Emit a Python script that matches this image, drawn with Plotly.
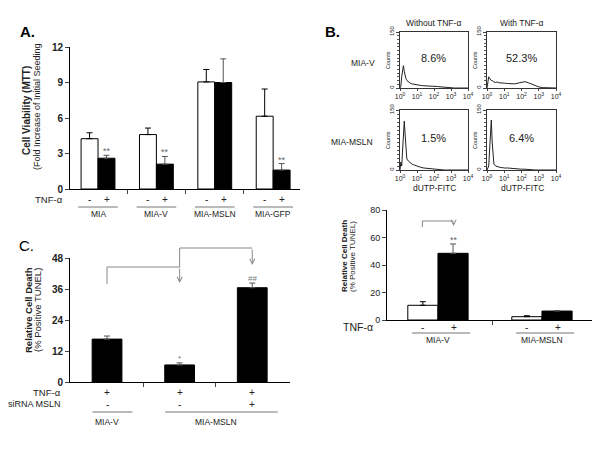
import plotly.graph_objects as go

# ---- data ----
# A. MTT viability
groups_a = ["MIA", "MIA-V", "MIA-MSLN", "MIA-GFP"]
a_minus = [4.25, 4.6, 9.05, 6.15]
a_minus_err = [0.5, 0.55, 1.05, 2.3]
a_plus = [2.6, 2.1, 9.0, 1.6]
a_plus_err = [0.25, 0.65, 2.0, 0.55]
a_sig = ["**", "**", "", "**"]
a_ticks = [0, 3, 6, 9, 12]

# B. TUNEL flow histograms (log10 dUTP-FITC vs counts)
hist_log = [0, 0.05, 0.1, 0.15, 0.2, 0.25, 0.3, 0.35, 0.4, 0.5, 0.6, 0.7, 0.8, 0.9,
            1.0, 1.2, 1.4, 1.6, 1.8, 2.0, 2.2, 2.4, 2.6, 2.8, 3.0, 3.2, 3.5, 4.0]
hist_v_minus = [0, 5, 30, 55, 60, 45, 32, 25, 20, 16, 13, 11, 10, 9,
                8, 7, 6, 6, 5, 4, 4, 3, 2, 2, 1, 0, 0, 0]
hist_v_plus = [0, 20, 30, 26, 22, 20, 20, 18, 16, 15, 16, 14, 13, 14,
               13, 12, 11, 11, 13, 16, 17, 14, 10, 6, 3, 1, 0, 0]
hist_m_minus = [0, 20, 10, 60, 110, 122, 90, 40, 28, 22, 18, 15, 13, 11,
                9, 7, 5, 4, 3, 2, 1, 0, 0, 0, 0, 0, 0, 0]
hist_m_plus = [0, 5, 10, 50, 115, 125, 70, 25, 15, 10, 8, 7, 6, 6,
               5, 5, 4, 4, 3, 2, 2, 1, 1, 0, 0, 0, 0, 0]
hist_pct = ["8.6%", "52.3%", "1.5%", "6.4%"]
hist_ticks = [0, 1, 2, 3, 4]

# B. TUNEL bars
groups_b = ["MIA-V", "MIA-MSLN"]
b_minus = [10.7, 2.4]
b_minus_err = [2.6, 0.7]
b_plus = [48.5, 6.5]
b_plus_err = [6.8, 0.4]
b_sig = ["**", ""]
b_ticks = [0, 20, 40, 60, 80]

# C. TUNEL with siRNA
c_values = [16.6, 6.6, 36.5]
c_err = [1.2, 0.8, 1.8]
c_sig = ["", "*", "##"]
c_tnf = ["+", "+", "+"]
c_sirna = ["-", "-", "+"]
c_groups = [("MIA-V", 0, 0), ("MIA-MSLN", 1, 2)]
c_ticks = [0, 12, 24, 36, 48]

FONT = "Arial, Liberation Sans, sans-serif"
TXT = "#222"
# the page body adds an 8px margin, so the figure is drawn 8px smaller and shifted
W, H, OFF = 592, 442, 8


def px(v):
    return (v - OFF) / W


def py(v):
    return 1 - (v - OFF) / H


fig = go.Figure()
ann = []
shp = []


def note(x, y, text, size=8.5, xref="paper", yref="paper", color=TXT, **kw):
    d = dict(x=x, y=y, xref=xref, yref=yref, text=text, showarrow=False,
             xanchor="center", yanchor="middle", font=dict(size=size, color=color))
    d.update(kw)
    ann.append(d)


# ---------------- panel A ----------------
fig.add_bar(x=list(range(4)), y=a_minus, marker=dict(color="white", line=dict(color="black", width=1)),
            error_y=dict(type="data", array=a_minus_err, arrayminus=[0] * 4, symmetric=False,
                         color="black", thickness=1, width=3),
            xaxis="x", yaxis="y", showlegend=False)
fig.add_bar(x=list(range(4)), y=a_plus, marker=dict(color="black", line=dict(color="black", width=1)),
            error_y=dict(type="data", array=a_plus_err, arrayminus=[0] * 4, symmetric=False,
                         color="#555", thickness=1, width=3),
            xaxis="x", yaxis="y", showlegend=False)

for i, g in enumerate(groups_a):
    note(i - 0.15, py(199), "-", 10, xref="x")
    note(i + 0.15, py(199), "+", 10, xref="x")
    shp.append(dict(type="line", xref="x", yref="paper", x0=i - 0.34, x1=i + 0.34,
                    y0=py(207), y1=py(207), line=dict(color="#777", width=1)))
    note(i, py(214), g, 8.5, xref="x")
    if a_sig[i]:
        note(i + 0.15, a_plus[i] + a_plus_err[i], a_sig[i], 9, xref="x", yref="y",
             color="#666", yanchor="bottom", yshift=-3)
note(px(49), py(199), "TNF-α", 9.5)
note(px(26), py(111), "<b>Cell Viability (MTT)</b>", 10, textangle=-90)
note(px(37), py(107), "(Fold Increase of Initial Seeding", 9, textangle=-90)
note(px(27), py(31), "<b>A.</b>", 15, color="black")

# ---------------- panel B bars ----------------
fig.add_bar(x=list(range(2)), y=b_minus, marker=dict(color="white", line=dict(color="black", width=1)),
            error_y=dict(type="data", array=b_minus_err, arrayminus=[0] * 2, symmetric=False,
                         color="black", thickness=1, width=3),
            xaxis="x2", yaxis="y2", showlegend=False)
fig.add_bar(x=list(range(2)), y=b_plus, marker=dict(color="black", line=dict(color="black", width=1)),
            error_y=dict(type="data", array=b_plus_err, arrayminus=[0] * 2, symmetric=False,
                         color="#555", thickness=1, width=3),
            xaxis="x2", yaxis="y2", showlegend=False)
for i, g in enumerate(groups_b):
    note(i - 0.15, py(327), "-", 10, xref="x2")
    note(i + 0.15, py(327), "+", 10, xref="x2")
    shp.append(dict(type="line", xref="x2", yref="paper", x0=i - 0.25, x1=i + 0.31,
                    y0=py(333), y1=py(333), line=dict(color="#777", width=1)))
    note(i, py(340), g, 8.5, xref="x2")
    if b_sig[i]:
        note(i + 0.15, b_plus[i] + b_plus_err[i], b_sig[i], 9, xref="x2", yref="y2",
             color="#666", yanchor="bottom", yshift=-3)
note(px(358), py(327), "TNF-α", 10.5)
note(px(344), py(256), "<b>Relative Cell Death</b>", 8, textangle=-90)
note(px(352), py(256), "(% Positive TUNEL)", 8, textangle=-90)
# bracket MIA-V - vs +
shp.append(dict(type="path", xref="x2", yref="paper",
                path=f"M -0.15,{py(227)} L -0.15,{py(221)} L 0.15,{py(221)}",
                line=dict(color="#888", width=1)))
ann.append(dict(x=0.15, y=py(226), xref="x2", yref="paper", ax=0, ay=-5, text="",
                showarrow=True, arrowhead=5, arrowsize=1, arrowwidth=1, arrowcolor="#888"))
note(px(332), py(31), "<b>B.</b>", 15, color="black")

# ---------------- panel B histograms ----------------
hists = [hist_v_minus, hist_v_plus, hist_m_minus, hist_m_plus]
boxes = [(400, 468, 32, 88), (487, 556, 32, 88), (400, 468, 110, 170), (487, 556, 110, 170)]
for k, (counts, (x0, x1, y0, y1)) in enumerate(zip(hists, boxes)):
    n = k + 4
    fig.add_scatter(x=hist_log, y=counts, mode="lines", line=dict(color="#222", width=1),
                    xaxis=f"x{n}", yaxis=f"y{n}", showlegend=False)
    fig.update_layout(**{
        f"xaxis{n}": dict(domain=[px(x0), px(x1)], anchor=f"y{n}", range=[0, 4], showline=True,
                          mirror=True, linecolor="#333", linewidth=1, ticks="outside", ticklen=2,
                          tickvals=hist_ticks, ticktext=[f"10<sup>{t}</sup>" for t in hist_ticks],
                          tickfont=dict(size=7, color=TXT), showgrid=False, zeroline=False,
                          automargin=False),
        f"yaxis{n}": dict(domain=[py(y1), py(y0)], anchor=f"x{n}", range=[0, 150], showline=True,
                          mirror=True, linecolor="#333", linewidth=1, ticks="outside", ticklen=3,
                          tickvals=[0, 150], tickangle=-90, tickfont=dict(size=6, color=TXT),
                          minor=dict(ticks="outside", ticklen=2, dtick=10, tickcolor="#555"),
                          showgrid=False, zeroline=False, automargin=False),
    })
    note((px(x0) + px(x1)) / 2, py((y0 + y1) / 2 - 2), hist_pct[k], 11)
    note(px(x0 - 12), py((y0 + y1) / 2), "Counts", 5.5, textangle=-90)

note(px(433), py(23), "Without TNF-α", 8.5)
note(px(522), py(23), "With TNF-α", 8.5)
note(px(363), py(63), "MIA-V", 8.5)
note(px(352), py(142), "MIA-MSLN", 8.5)
for xc in (434, 522):
    note(px(xc), py(188), "dUTP-FITC", 8.5)

# ---------------- panel C ----------------
fig.add_bar(x=list(range(3)), y=c_values, width=0.41, marker=dict(color="black", line=dict(color="black", width=1)),
            error_y=dict(type="data", array=c_err, arrayminus=[0] * 3, symmetric=False,
                         color="#555", thickness=1, width=3),
            xaxis="x3", yaxis="y3", showlegend=False)
for i in range(3):
    note(i, py(392), c_tnf[i], 10, xref="x3")
    note(i, py(404), c_sirna[i], 10, xref="x3")
    if c_sig[i]:
        note(i, c_values[i] + c_err[i], c_sig[i], 8, xref="x3", yref="y3",
             color="#777", yanchor="bottom", yshift=-2)
for name, i0, i1 in c_groups:
    shp.append(dict(type="line", xref="x3", yref="paper", x0=i0 - 0.2, x1=i1 + 0.35,
                    y0=py(412), y1=py(412), line=dict(color="#777", width=1)))
    note((i0 + i1) / 2, py(422), name, 8.5, xref="x3")
note(px(63), py(392), "TNF-α", 9.5, xanchor="right")
note(px(63), py(404), "siRNA MSLN", 9, xanchor="right")
note(px(28), py(310), "<b>Relative Cell Death</b>", 9.5, textangle=-90)
note(px(37), py(310), "(% Positive TUNEL)", 9.5, textangle=-90)
note(px(26), py(245), "C.", 15, color="black")
# brackets
shp.append(dict(type="path", xref="x3", yref="paper",
                path=f"M 0,{py(284)} L 0,{py(267)} L 1,{py(267)}",
                line=dict(color="#888", width=1)))
shp.append(dict(type="path", xref="x3", yref="paper",
                path=f"M 1,{py(267)} L 1,{py(248)} L 2,{py(248)}",
                line=dict(color="#888", width=1)))
ann.append(dict(x=1, y=py(283), xref="x3", yref="paper", ax=0, ay=-16, text="",
                showarrow=True, arrowhead=5, arrowsize=1, arrowwidth=1, arrowcolor="#888"))
ann.append(dict(x=2, y=py(265), xref="x3", yref="paper", ax=0, ay=-17, text="",
                showarrow=True, arrowhead=5, arrowsize=1, arrowwidth=1, arrowcolor="#888"))

# ---------------- axes ----------------
common_x = dict(showline=True, linecolor="black", linewidth=1, ticks="outside", ticklen=4,
                showticklabels=False, showgrid=False, zeroline=False, automargin=False)
common_y = dict(showline=True, linecolor="black", linewidth=1, ticks="outside", ticklen=4,
                showgrid=False, zeroline=False, automargin=False)

fig.update_layout(
    template="none",
    width=W, height=H, margin=dict(l=0, r=0, t=0, b=0, pad=0, autoexpand=False),
    paper_bgcolor="white", plot_bgcolor="white",
    font=dict(family=FONT, color=TXT),
    barmode="group", bargap=0.42, bargroupgap=0,
    xaxis=dict(domain=[px(70), px(300)], anchor="y", range=[-0.48, 3.46],
               tickvals=[0.5, 1.5, 2.5], **common_x),
    yaxis=dict(domain=[py(189), py(47)], anchor="x", range=[0, 12], tickvals=a_ticks,
               tickfont=dict(size=10, weight="bold", color=TXT), **common_y),
    xaxis2=dict(domain=[px(387), px(595)], anchor="y2", range=[-0.49, 1.51],
                tickvals=[0.52], **common_x),
    yaxis2=dict(domain=[py(320), py(210)], anchor="x2", range=[0, 80], tickvals=b_ticks,
                tickfont=dict(size=9, color=TXT), **common_y),
    xaxis3=dict(domain=[px(70), px(290)], anchor="y3", range=[-0.51, 2.52],
                tickvals=[0.5, 1.5], **common_x),
    yaxis3=dict(domain=[py(382), py(258)], anchor="x3", range=[0, 48], tickvals=c_ticks,
                tickfont=dict(size=10, weight="bold", color=TXT), **common_y),
    annotations=ann, shapes=shp,
)

fig.write_html("out.html")
